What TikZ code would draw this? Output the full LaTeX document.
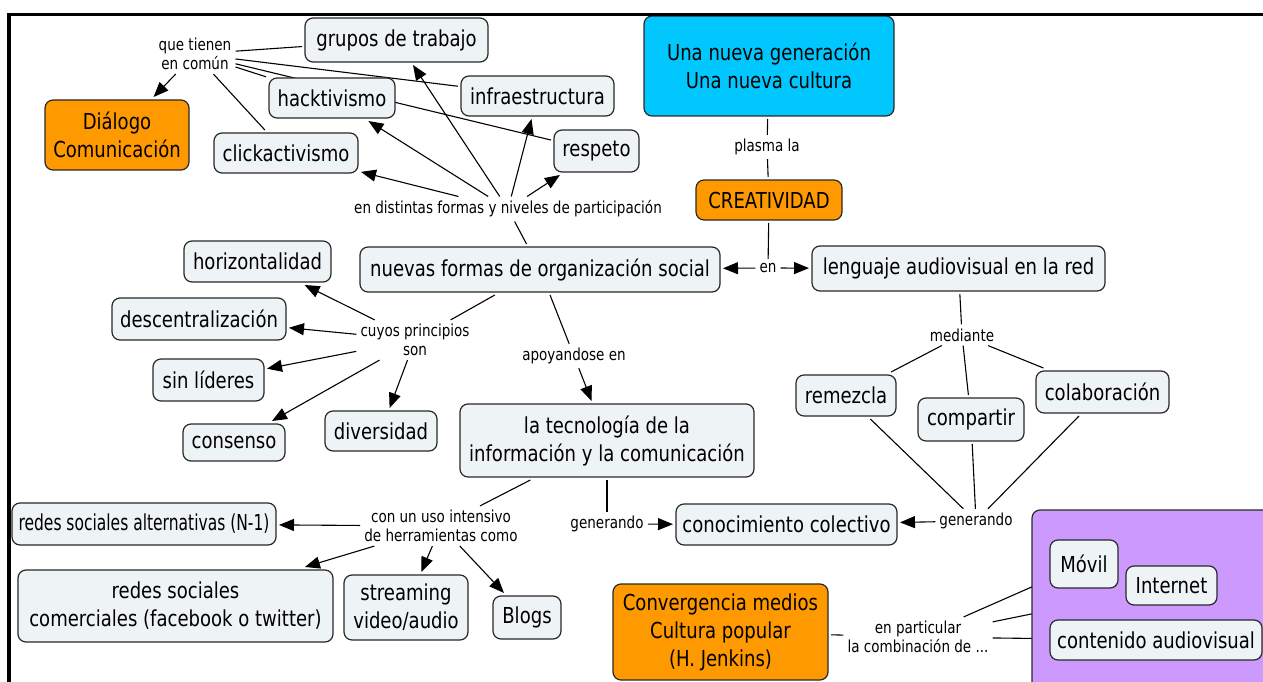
\documentclass[tikz,border=0pt]{standalone}
\usepackage{fontspec}
\setmainfont[FakeStretch=0.82]{DejaVu Sans}
\usetikzlibrary{arrows.meta}
\pgfdeclarelayer{bg}
\pgfsetlayers{bg,main}
\definecolor{cfill}{RGB}{238,243,245}
\definecolor{corange}{RGB}{255,153,0}
\definecolor{ccyan}{RGB}{0,200,255}
\definecolor{cpurple}{RGB}{204,153,255}
\definecolor{cline}{RGB}{40,40,40}
\begin{document}
\begin{tikzpicture}[x=1pt,y=-1pt,
  concept/.style={draw=cline, line width=1.2pt, rounded corners=8pt, fill=cfill,
    font=\fontsize{22}{28}\selectfont, align=center, inner sep=0pt, outer sep=3pt},
  sz/.style 2 args={minimum width=#1pt, minimum height=#2pt},
  linkph/.style={font=\fontsize{16.5}{19}\selectfont, align=center, inner sep=4pt},
  conn/.style={line width=1.1pt, draw=black},
  arr/.style={conn, -{Triangle[length=15pt,width=12pt]}},
]
\clip (0,0) rectangle (1263,682);

% concepts
\node[concept, sz={183}{44}] (grupos) at (396.5,40) {grupos de trabajo};
\node[concept, sz={153}{40}] (infra) at (537.5,96) {infraestructura};
\node[concept, sz={126}{40}] (hackt) at (332,98) {hacktivismo};
\node[concept, sz={85}{42}] (respeto) at (596.5,151) {respeto};
\node[concept, sz={144}{40}] (click) at (286,153) {clickactivismo};
\node[concept, sz={144}{70}, fill=corange] (dialogo) at (117,135) {Diálogo\\Comunicación};
\node[concept, sz={250}{100}, fill=ccyan] (cyan) at (769,66) {Una nueva generación\\Una nueva cultura};
\node[concept, sz={146}{40}, fill=corange] (creat) at (769,200) {CREATIVIDAD};
\node[concept, sz={360}{45}] (nuevas) at (540,269.5) {nuevas formas de organización social};
\node[concept, sz={293}{45}] (lenguaje) at (958.5,268.5) {lenguaje audiovisual en la red};
\node[concept, sz={147}{41}] (horiz) at (257.5,261.5) {horizontalidad};
\node[concept, sz={174}{42}] (descent) at (199,319) {descentralización};
\node[concept, sz={111}{42}] (sinlid) at (208.5,380) {sin líderes};
\node[concept, sz={102}{37}] (consenso) at (234,442.5) {consenso};
\node[concept, sz={112}{40}] (divers) at (381,431) {diversidad};
\node[concept, sz={294}{73}] (tecno) at (607,440.5) {la tecnología de la\\información y la comunicación};
\node[concept, sz={100}{41}] (remezcla) at (846,395.5) {remezcla};
\node[concept, sz={106}{43}] (compartir) at (971,419.5) {compartir};
\node[concept, sz={133}{42}] (colab) at (1102.5,392) {colaboración};
\node[concept, sz={221}{41}] (conoc) at (786.5,524.5) {conocimiento colectivo};
\node[concept, sz={264}{42}] (redesalt) at (144,524) {\scalebox{0.86}[1]{redes sociales alternativas (N-1)}};
\node[concept, sz={315}{72}] (redescom) at (175.5,606) {redes sociales\\comerciales (facebook o twitter)};
\node[concept, sz={124}{65}] (stream) at (406,607.5) {streaming\\video/audio};
\node[concept, sz={68}{43}] (blogs) at (527,617.5) {Blogs};
\node[concept, sz={215}{96}, fill=corange] (converg) at (720.5,632) {Convergencia medios\\Cultura popular\\(H. Jenkins)};
\node[concept, sz={250}{190}, fill=cpurple, outer sep=0pt] (grupo) at (1157,605) {};
\node[concept, sz={68}{48}] (movil) at (1084,564) {Móvil};
\node[concept, sz={91}{39}] (internet) at (1171.5,585.5) {Internet};
\node[concept, sz={212}{40}] (contenido) at (1156,640) {contenido audiovisual};

% linking phrases
\node[linkph] (que) at (195,54) {que tienen\\en común};
\node[linkph] (endist) at (508,209) {en distintas formas y niveles de participación};
\node[linkph] (plasma) at (767,147) {plasma la};
\node[linkph] (en) at (768,268) {en};
\node[linkph] (cuyos) at (415,340) {cuyos principios\\son};
\node[linkph] (apoy) at (574,356) {apoyandose en};
\node[linkph] (mediante) at (962,335) {mediante};
\node[linkph] (conun) at (441,526) {con un uso intensivo\\de herramientas como};
\node[linkph] (gen1) at (607,524) {generando};
\node[linkph] (gen2) at (976,521) {generando};
\node[linkph] (enpart) at (918,637) {en particular\\la combinación de ...};

\begin{pgfonlayer}{bg}
\draw[conn] (grupos) -- (que);
\draw[conn] (infra) -- (que);
\draw[conn] (respeto) -- (que);
\draw[conn] (hackt) -- (que);
\draw[conn] (click) -- (que);
\draw[arr] (que) -- (dialogo);
\draw[conn] (nuevas) -- (endist);
\draw[arr] (endist) -- (grupos);
\draw[arr] (endist) -- (infra);
\draw[arr] (endist) -- (hackt);
\draw[arr] (endist) -- (click);
\draw[arr] (endist) -- (respeto);
\draw[conn] (cyan) -- (plasma);
\draw[conn] (plasma) -- (creat);
\draw[conn] (creat) -- (en);
\draw[arr] (en) -- (nuevas);
\draw[arr] (en) -- (lenguaje);
\draw[conn] (nuevas) -- (cuyos);
\draw[arr] (cuyos) -- (horiz);
\draw[arr] (cuyos) -- (descent);
\draw[arr] (cuyos) -- (sinlid);
\draw[arr] (cuyos) -- (consenso);
\draw[arr] (cuyos) -- (divers);
\draw[conn] (nuevas) -- (apoy);
\draw[arr] (apoy) -- (tecno);
\draw[conn] (lenguaje) -- (mediante);
\draw[conn] (mediante) -- (remezcla);
\draw[conn] (mediante) -- (compartir);
\draw[conn] (mediante) -- (colab);
\draw[conn] (remezcla) -- (gen2);
\draw[conn] (compartir) -- (gen2);
\draw[conn] (colab) -- (gen2);
\draw[arr] (gen2) -- (conoc);
\draw[conn] (tecno) -- (gen1);
\draw[arr] (gen1) -- (conoc);
\draw[conn] (tecno) -- (conun);
\draw[arr] (conun) -- (redesalt);
\draw[arr] (conun) -- (redescom);
\draw[arr] (conun) -- (stream);
\draw[arr] (conun) -- (blogs);
\draw[conn] (converg) -- (enpart);
\draw[conn] (enpart) -- (movil);
\draw[conn] (enpart) -- (internet);
\draw[conn] (enpart) -- (contenido);
\end{pgfonlayer}

% frame
\draw[line width=3.5pt] (9,690) -- (9,14.5) -- (1270,14.5);
\end{tikzpicture}
\end{document}
